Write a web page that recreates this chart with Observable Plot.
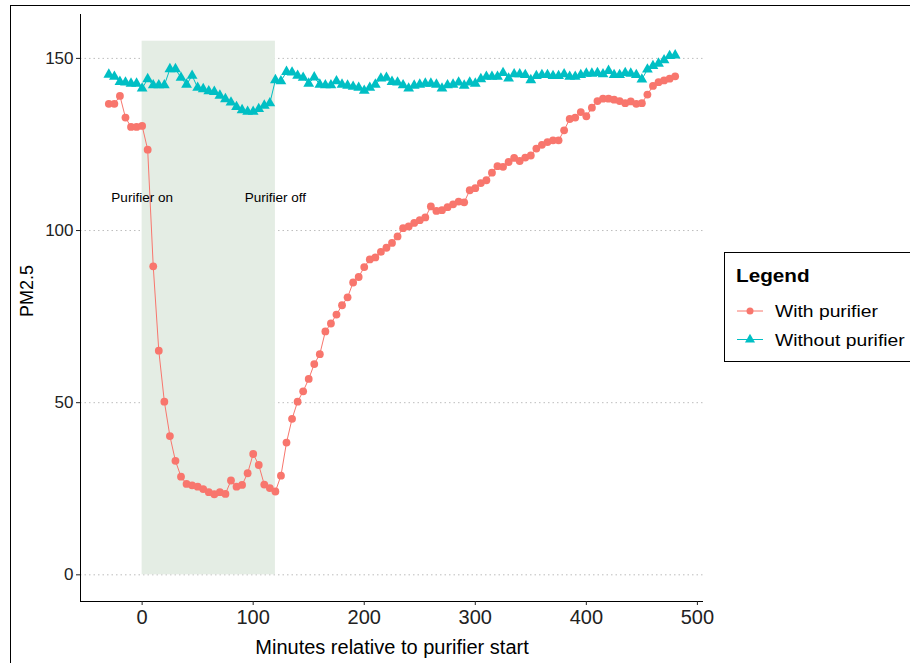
<!DOCTYPE html>
<html>
<head>
<meta charset="utf-8">
<script src="https://cdn.jsdelivr.net/npm/d3@7"></script>
<script src="https://cdn.jsdelivr.net/npm/@observablehq/plot@0.6"></script>
<style>
  body { margin: 0; background: #fff; font-family: "Liberation Sans", Arial, sans-serif; }
  #wrap { position: relative; width: 910px; height: 663px; overflow: hidden; }
  #border { position: absolute; left: 10px; top: 5px; width: 905px; height: 670px; border-left: 1px solid #000; border-top: 1px solid #000; pointer-events: none; }
  #legend { position: absolute; left: 724px; top: 252px; width: 190px; height: 110px; border: 1px solid #000; background: #fff; box-sizing: border-box; }
</style>
</head>
<body>
<div id="wrap"><div id="chart"></div><div id="border"></div><div id="legend"></div></div>
<script>
const minutes = [-30,-25,-20,-15,-10,-5,0,5,10,15,20,25,30,35,40,45,50,55,60,65,70,75,80,85,90,95,100,105,110,115,120,125,130,135,140,145,150,155,160,165,170,175,180,185,190,195,200,205,210,215,220,225,230,235,240,245,250,255,260,265,270,275,280,285,290,295,300,305,310,315,320,325,330,335,340,345,350,355,360,365,370,375,380,385,390,395,400,405,410,415,420,425,430,435,440,445,450,455,460,465,470,475,480];
const withPurifier = [136.8,136.8,139.1,132.8,130.1,130.1,130.4,123.5,89.6,65.1,
  50.3,40.3,33.1,28.5,26.4,26.0,25.6,24.9,24.0,23.4,
  24.0,23.5,27.4,25.6,26.1,29.5,35.1,31.9,26.2,25.2,
  24.2,28.8,38.4,45.3,50.3,53.3,56.9,61.2,64.1,70.7,
  73.0,75.6,78.3,80.6,84.9,86.5,89.4,91.6,92.2,93.8,
  95.0,96.4,98.3,100.7,101.2,102.2,103.0,103.8,107.0,105.7,
  105.9,106.8,107.6,108.4,108.2,111.7,112.3,113.8,114.6,116.8,
  118.7,118.5,119.9,121.1,120.2,121.2,121.8,123.8,124.9,125.7,
  126.2,126.2,129.1,132.4,132.8,134.4,133.2,135.7,137.6,138.3,
  138.3,138.0,137.6,137.0,137.5,136.8,137.0,139.5,142.0,143.1,
  143.6,144.1,144.8];
const withoutPurifier = [145.3,144.7,143.2,143.0,142.7,142.7,141.3,144.0,142.2,142.2,
  142.2,146.9,146.9,144.4,142.4,145.0,141.5,141.1,140.5,140.3,
  139.2,138.2,137.2,135.9,135.0,134.5,134.5,135.3,136.3,137.0,
  143.7,143.4,146.1,145.9,145.0,144.4,142.7,144.5,142.4,142.2,
  142.2,143.4,142.4,142.1,141.8,141.5,140.6,141.5,142.4,144.2,
  144.4,143.2,143.0,142.2,141.3,142.1,142.4,142.7,142.7,142.4,
  141.3,142.2,142.4,143.0,142.1,143.0,142.7,144.0,144.7,144.7,
  144.7,145.8,144.2,145.4,145.4,145.2,143.7,144.9,145.2,145.2,
  144.9,144.9,145.4,144.7,144.7,145.2,145.6,145.6,145.8,145.4,
  146.4,145.2,145.2,145.8,145.6,145.2,143.9,146.8,147.8,148.5,
  149.5,150.7,150.9];
const seriesNames = ["With purifier", "Without purifier"];
const seriesColors = ["#F8766D", "#00BFC4"];
const xTicks = [0, 100, 200, 300, 400, 500];
const yTicks = [0, 50, 100, 150];
const purifierPeriod = [{start: 0, end: 120, low: 0, high: 155}];
const annotations = [{minute: 0, value: 109.5, label: "Purifier on"}, {minute: 120, value: 109.5, label: "Purifier off"}];

const red = minutes.map((m, i) => ({minute: m, pm: withPurifier[i]}));
const teal = minutes.map((m, i) => ({minute: m, pm: withoutPurifier[i]}));

const xDom = [-55.5, 505.5];
const yDom = [-7.75, 162.75];

const chart = Plot.plot({
  width: 910,
  height: 663,
  marginLeft: 80,
  marginTop: 14,
  marginBottom: 62,
  marginRight: 207,
  style: {fontFamily: "Liberation Sans, Arial, sans-serif", background: "white", overflow: "visible"},
  x: {domain: xDom},
  y: {domain: yDom},
  marks: [
    Plot.ruleY(yTicks, {stroke: "#bdbdbd", strokeDasharray: "1.5,3", strokeWidth: 1}),
    Plot.rectY(purifierPeriod, {x1: "start", x2: "end", y1: "low", y2: "high", fill: "#e4ede4"}),
    Plot.line(red, {x: "minute", y: "pm", stroke: seriesColors[0], strokeWidth: 1}),
    Plot.line(teal, {x: "minute", y: "pm", stroke: seriesColors[1], strokeWidth: 1}),
    Plot.dot(red, {x: "minute", y: "pm", fill: seriesColors[0], r: 3.9, symbol: "circle"}),
    Plot.dot(teal, {x: "minute", y: "pm", fill: seriesColors[1], r: 4, symbol: "triangle"}),
    Plot.text(annotations, {x: "minute", y: "value", text: "label", fontSize: 13.5, fill: "#000"}),
    Plot.ruleX([xDom[0]], {stroke: "#000", strokeWidth: 1}),
    Plot.ruleY([yDom[0]], {stroke: "#000", strokeWidth: 1}),
    Plot.axisX({ticks: xTicks, tickSize: 4, tickPadding: 4, fontSize: 20, label: null, color: "#222"}),
    Plot.axisY({ticks: yTicks, tickSize: 4, tickPadding: 3, fontSize: 17, label: null, color: "#222"}),
    Plot.text(["Minutes relative to purifier start"], {frameAnchor: "bottom", dy: 46, fontSize: 20, fill: "#000", lineAnchor: "middle"}),
    Plot.text(["PM2.5"], {frameAnchor: "left", dx: -53, dy: -17, rotate: -90, fontSize: 18, fill: "#000", textAnchor: "middle"})
  ]
});
document.getElementById("chart").appendChild(chart);

// legend
const lg = d3.select("#legend").append("svg").attr("width", 190).attr("height", 110);
lg.append("text").attr("transform", "translate(11,29) scale(1.15,1)").attr("font-size", 18).attr("font-weight", "bold")
  .attr("font-family", "Liberation Sans, Arial, sans-serif").text("Legend");
seriesNames.forEach((name, i) => {
  const y = 58 + i * 28.5;
  lg.append("line").attr("x1", 12).attr("x2", 38).attr("y1", y).attr("y2", y).attr("stroke", seriesColors[i]).attr("stroke-width", 1);
  lg.append("path").attr("transform", `translate(25,${y})`).attr("fill", seriesColors[i])
    .attr("d", d3.symbol(i === 0 ? d3.symbolCircle : d3.symbolTriangle, i === 0 ? Math.PI * 3.5 * 3.5 : Math.PI * 14)());
  lg.append("text").attr("transform", `translate(50,${y + 6}) scale(1.17,1)`).attr("font-size", 16.5)
    .attr("font-family", "Liberation Sans, Arial, sans-serif").text(name);
});
</script>
</body>
</html>
